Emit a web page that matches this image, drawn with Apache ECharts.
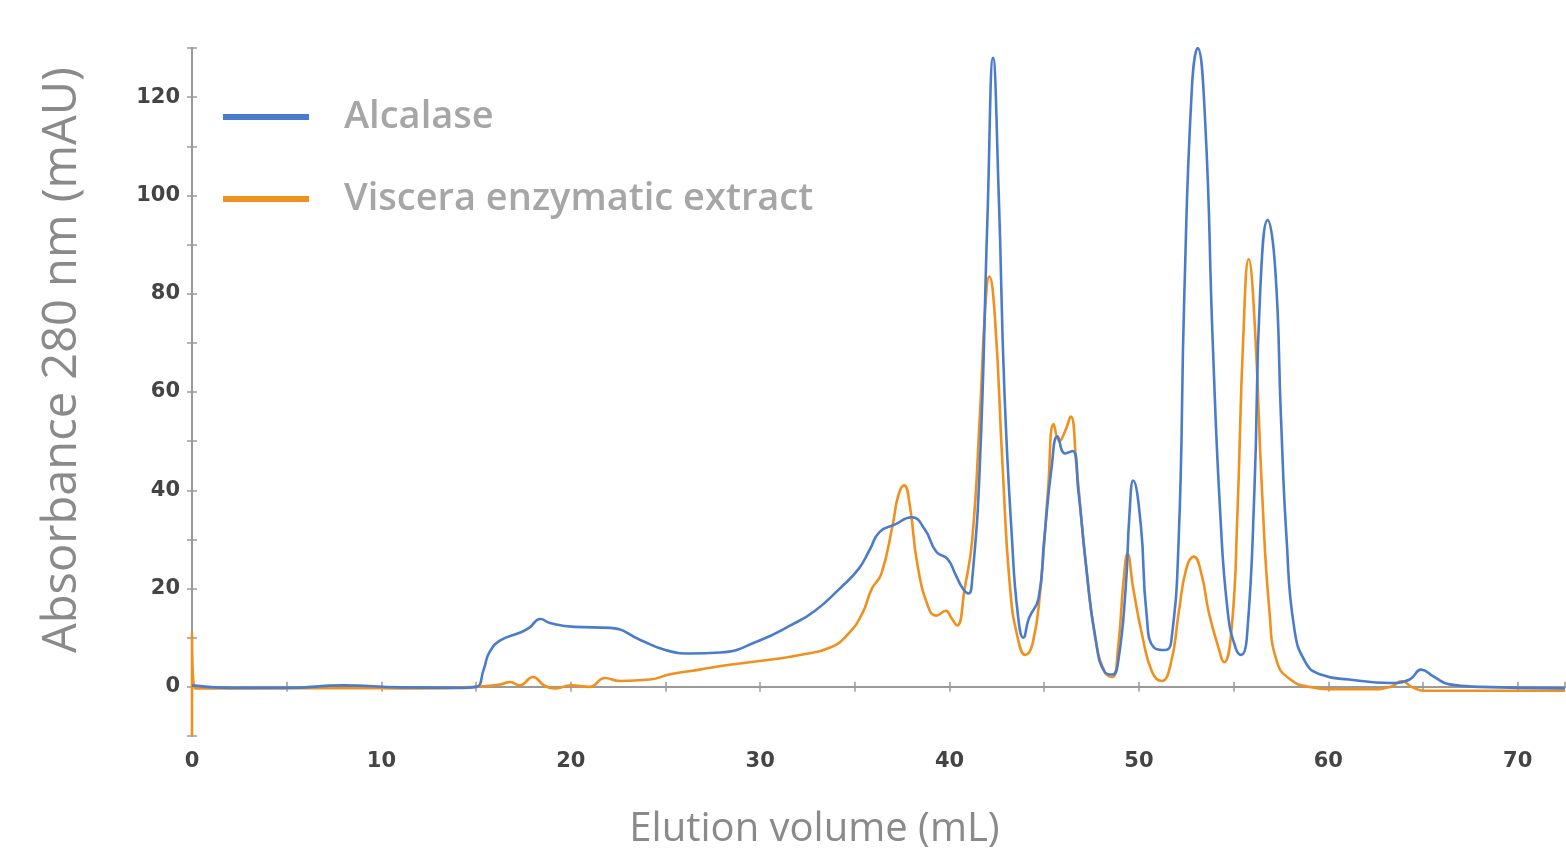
<!DOCTYPE html>
<html>
<head>
<meta charset="utf-8">
<script src="https://cdn.jsdelivr.net/npm/echarts@6/dist/echarts.min.js"></script>
<style>
  html, body { margin: 0; padding: 0; background: #fff; }
  #chart { width: 1566px; height: 857px; }
</style>
</head>
<body>
<div id="chart"></div>
<script>
// elution volume (mL) / absorbance (mAU)
const alcalaseX = [0, 2, 5, 8, 11, 14, 15, 15.4, 15.7, 16.3, 17.3, 17.8, 18.4, 18.9, 20.2, 22.1, 23.7, 25, 26.3, 27.9, 30, 31.6, 32.9, 34.2, 35.2, 35.8, 36.3, 37.1, 38.0, 38.7, 39.3, 39.9, 40.3, 40.7, 41.0, 41.2, 41.6, 42.0, 42.3, 42.6, 42.9, 43.3, 43.6, 43.9, 44.2, 44.7, 45.0, 45.4, 45.7, 46.1, 46.5, 46.8, 47.2, 47.7, 48.2, 48.6, 48.9, 49.3, 49.5, 49.7, 50.1, 50.4, 50.8, 51.4, 51.7, 52.1, 52.4, 52.8, 53.1, 53.5, 53.9, 54.3, 54.7, 55.1, 55.4, 55.7, 56.1, 56.4, 56.8, 57.2, 57.5, 57.8, 58.2, 58.8, 59.6, 61.1, 63.3, 64.3, 64.9, 65.6, 66.4, 68, 72.5];
const alcalaseY = [0.3, -0.2, -0.2, 0.3, -0.1, -0.2, 0, 3.5, 7, 9.5, 11, 12, 13.8, 13, 12.2, 12, 9.5, 7.5, 6.8, 7, 9.5, 12.5, 15.5, 20, 24, 28, 31.5, 33, 34.5, 32, 27.5, 26, 23, 20, 19, 22, 45, 95, 128, 100, 60, 30, 15, 10, 14, 18, 30, 45, 51, 47.5, 48, 40, 25, 10, 3, 2.5, 5, 20, 35, 42, 33, 15, 8, 7.5, 9, 30, 80, 122, 130, 115, 70, 35, 15, 8, 6.5, 10, 40, 80, 95, 85, 55, 30, 12, 5, 2.5, 1.5, 0.8, 1.5, 3.5, 2, 0.5, 0, -0.3];

const visceraX = [0, 0, 0.15, 3, 8, 12, 15, 16.3, 16.8, 17.3, 18, 18.6, 19.2, 20, 21, 21.8, 22.6, 24.2, 25.2, 26.8, 28.4, 30.5, 32.1, 33.7, 34.7, 35.4, 35.9, 36.4, 37.0, 37.3, 37.6, 37.9, 38.3, 38.9, 39.3, 39.8, 40.1, 40.4, 40.8, 41.2, 41.6, 41.9, 42.1, 42.4, 42.8, 43.2, 43.6, 44.0, 44.4, 44.8, 45.2, 45.5, 45.8, 46.1, 46.4, 46.7, 47.2, 47.7, 48.2, 48.6, 48.9, 49.2, 49.4, 49.7, 50.2, 50.7, 51.2, 51.7, 52.1, 52.5, 52.9, 53.3, 53.7, 54.2, 54.5, 54.9, 55.2, 55.5, 55.8, 56.1, 56.5, 56.9, 57.3, 58.0, 59.0, 60.6, 62.2, 63.3, 63.9, 64.4, 65.1, 72.5];
const visceraY = [-10, 11, -0.3, -0.3, -0.2, -0.3, 0, 0.5, 1, 0.3, 2, 0.3, -0.3, 0.3, 0, 1.8, 1.2, 1.5, 2.5, 3.5, 4.5, 5.5, 6.5, 8, 11, 15, 20, 23, 33, 39, 41, 37, 25, 16, 14.5, 15.5, 14, 12.5, 20, 30, 55, 78, 83.5, 75, 45, 20, 10, 6.5, 9, 20, 40, 53.5, 50, 52, 55, 45, 25, 10, 3, 2, 8, 22, 27, 20, 10, 3, 1.2, 5, 15, 24, 26.5, 23, 15, 8, 5, 12, 35, 70, 87, 75, 40, 15, 5, 1.5, 0, -0.5, -0.5, 0, 1.2, 0, -0.8, -0.8];

const seriesNames = ['Alcalase', 'Viscera enzymatic extract'];
const seriesColors = ['#4a7ccb', '#f0901e'];

const zip = (xs, ys) => xs.map((x, i) => [x, ys[i]]);

const chart = echarts.init(document.getElementById('chart'));

const axisGrey = '#9a9a9a';
const labelFont = { color: '#444', fontSize: 21, fontWeight: 'bold', fontFamily: 'DejaVu Sans' };

chart.setOption({
  animation: false,
  grid: { left: 192, right: 1, top: 48, bottom: 121 },
  legend: {
    orient: 'vertical',
    left: 218,
    top: 93,
    icon: 'rect',
    itemWidth: 86,
    itemHeight: 6,
    itemGap: 44,
    data: seriesNames,
    textStyle: {
      color: '#a6a6a6',
      fontSize: 38,
      fontWeight: 600,
      fontFamily: 'Open Sans',
      padding: [0, 0, 0, 30]
    }
  },
  xAxis: [
    {
      type: 'value',
      min: 0,
      max: 72.5,
      interval: 5,
      name: 'Elution volume (mL)',
      nameLocation: 'middle',
      nameGap: 74,
      nameTextStyle: { color: '#8a8a8a', fontSize: 40, fontFamily: 'Open Sans', padding: [0, 128, 0, 0] },
      splitLine: { show: false },
      axisLine: { lineStyle: { color: axisGrey, width: 2 } },
      axisTick: { length: 5, lineStyle: { color: axisGrey, width: 1.5 } },
      axisLabel: Object.assign({ margin: 15, showMaxLabel: false, formatter: v => (v % 10 === 0 ? String(v) : '') }, labelFont)
    },
    {
      type: 'value',
      min: 0,
      max: 72.5,
      interval: 5,
      position: 'bottom',
      splitLine: { show: false },
      axisLine: { show: false },
      axisTick: { inside: true, length: 5, lineStyle: { color: axisGrey, width: 1.5 } },
      axisLabel: { show: false }
    }
  ],
  yAxis: [
    {
      type: 'value',
      min: -10,
      max: 130,
      interval: 10,
      name: 'Absorbance 280 nm (mAU)',
      nameLocation: 'middle',
      nameGap: 106,
      nameTextStyle: { color: '#8a8a8a', fontSize: 47, fontFamily: 'Open Sans', padding: [0, 0, 0, 64] },
      splitLine: { show: false },
      axisLine: { lineStyle: { color: axisGrey, width: 2 } },
      axisTick: { length: 5, lineStyle: { color: axisGrey, width: 1.5 } },
      axisLabel: Object.assign({ margin: 12, formatter: v => (v % 20 === 0 && v <= 120 ? String(v) : '') }, labelFont)
    },
    {
      type: 'value',
      min: -10,
      max: 130,
      interval: 10,
      position: 'left',
      splitLine: { show: false },
      axisLine: { show: false },
      axisTick: { inside: true, length: 5, lineStyle: { color: axisGrey, width: 1.5 } },
      axisLabel: { show: false }
    }
  ],
  series: [
    {
      name: seriesNames[0],
      type: 'line',
      data: zip(alcalaseX, alcalaseY),
      smooth: 0.5,
      showSymbol: false,
      lineStyle: { width: 2.6, color: seriesColors[0] },
      itemStyle: { color: seriesColors[0] },
      z: 3
    },
    {
      name: seriesNames[1],
      type: 'line',
      data: zip(visceraX, visceraY),
      smooth: 0.5,
      showSymbol: false,
      lineStyle: { width: 2.6, color: seriesColors[1] },
      itemStyle: { color: seriesColors[1] },
      z: 2
    }
  ]
});

window.addEventListener('resize', () => chart.resize());
</script>
</body>
</html>
